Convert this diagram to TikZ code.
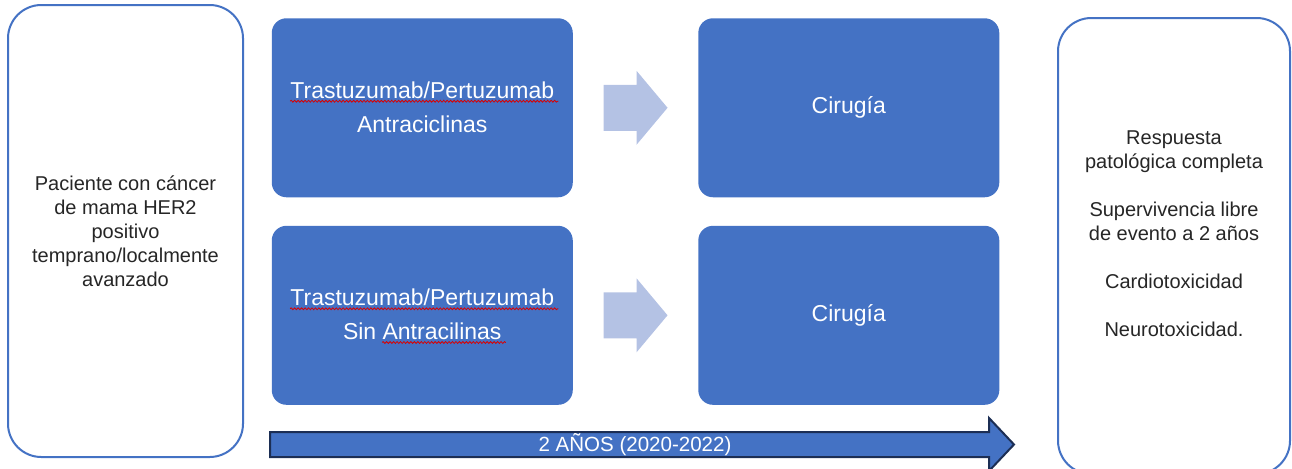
\documentclass[tikz,border=0pt]{standalone}
\usepackage{fontspec}
\setmainfont{Liberation Sans}
\usepackage{xcolor}
\usetikzlibrary{positioning, calc, decorations.pathmorphing}
\definecolor{cajaazul}{RGB}{68, 114, 196}
\definecolor{flechaclara}{RGB}{180, 194, 228}
\definecolor{bordeoscuro}{RGB}{28, 46, 84}
\definecolor{textogris}{RGB}{38, 38, 38}

\begin{document}
\begin{tikzpicture}[
    x=0.75pt, y=-0.75pt,
    node distance = 21pt and 93.75pt,
    marco/.style  = {rectangle, rounded corners=25pt, draw=cajaazul,
                     line width=1.5pt, fill=white, inner sep=0pt},
    tratam/.style = {rectangle, rounded corners=11pt, fill=cajaazul, text=white,
                     minimum width=225.75pt, minimum height=134.25pt,
                     font=\fontsize{17.25}{25.5}\selectfont, align=center, inner sep=0pt},
    blanco/.style = {text=white, font=\fontsize{17.25}{20}\selectfont, inner sep=0pt, anchor=base},
    txt/.style    = {font=\fontsize{15}{18}\selectfont, align=center, text=textogris},
    onda/.style   = {draw=red!85!black, line width=0.6pt, decorate,
                     decoration={snake, amplitude=0.7pt, segment length=2.6pt}},
    flecha/.style = {fill=flechaclara},
    linea/.style  = {fill=cajaazul, draw=bordeoscuro, line width=1.5pt, line join=miter},
  ]
  \clip (0,0) rectangle (1292,468);

  %% Patients
  \node[marco, txt, minimum width=176.25pt, minimum height=339pt] (paciente) at (125.5,231)
    {Paciente con cáncer\\de mama HER2\\positivo\\temprano/localmente\\avanzado};

  %% Treatment arms
  \node[tratam, anchor=north west] (tratA) at (271.5,18) {};
  \node[tratam, below=of tratA] (tratB) {};
  \node[blanco] (tA1) at ([yshift=7.1pt]tratA.center) {Trastuzumab/Pertuzumab};
  \node[blanco] (tA2) at ([yshift=-18.2pt]tratA.center) {Antraciclinas};
  \node[blanco] (tB1) at ([yshift=7.1pt]tratB.center) {Trastuzumab/Pertuzumab};
  \node[blanco] (tB2) at ([yshift=-18.2pt]tratB.center) {Sin Antracilinas};

  %% spell-check waves
  \draw[onda] ([yshift=-2.2pt]tA1.base west) -- ([xshift=3pt,yshift=-2.2pt]tA1.base east);
  \draw[onda] ([yshift=-2.2pt]tB1.base west) -- ([xshift=3pt,yshift=-2.2pt]tB1.base east);
  \draw[onda] ([xshift=29.5pt,yshift=-2.2pt]tB2.base west) -- ([xshift=3pt,yshift=-2.2pt]tB2.base east);

  %% Surgery
  \node[tratam, right=of tratA] (cirA) {Cirugía};
  \node[tratam, right=of tratB] (cirB) {Cirugía};

  %% Outcomes (box runs past the bottom edge)
  \node[marco, minimum width=174pt, minimum height=342pt] (resultados) at (1174,246) {};
  \node[txt] (resultadosTxt) at ([yshift=9pt]resultados.center)
    {Respuesta\\patológica completa\\[18pt]Supervivencia libre\\de evento a 2 años\\[18pt]Cardiotoxicidad\\[18pt]Neurotoxicidad.};

  %% Block arrows arm -> surgery
  \foreach \a/\b in {tratA/cirA, tratB/cirB}{
    \coordinate (f\a) at ($(\a.east)!0.5!(\b.west)$);
    \fill[flecha] (f\a) ++(-32,-23) -- ++(33,0) -- ++(0,-14) -- ++(31,37)
      -- ++(-31,37) -- ++(0,-14) -- ++(-33,0) -- cycle;
  }

  %% Timeline
  \coordinate (tiempo) at (270,444.5);
  \filldraw[linea] (tiempo) ++(0,-12.5) -- ++(719,0) -- ++(0,-14) -- ++(25,26.5)
    -- ++(-25,26.5) -- ++(0,-14) -- ++(-719,0) -- cycle;
  \node[font=\fontsize{15.4}{18}\selectfont, text=white] (anios) at (635,444.5) {2 AÑOS (2020-2022)};

\end{tikzpicture}
\end{document}
